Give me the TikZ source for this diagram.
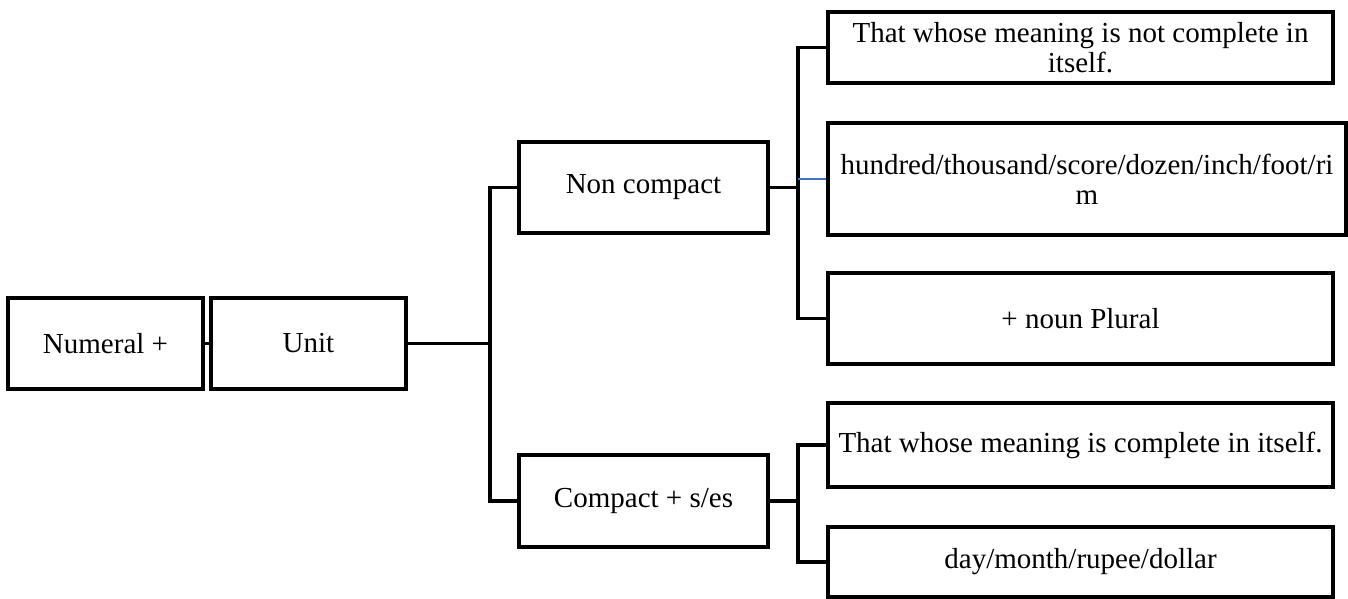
\documentclass[tikz,border=0pt]{standalone}
\usepackage{fontspec}
\setmainfont{Liberation Serif}
\definecolor{linkblue}{HTML}{4472C4}
\begin{document}
\begin{tikzpicture}[x=1pt,y=-1pt,
  box/.style={draw=black, line width=3.5pt, inner sep=0pt, align=center,
    font=\fontsize{29}{30}\selectfont},
  conn/.style={draw=black, line width=3.5pt},
  thinlink/.style={draw=linkblue, line width=1.5pt}]
\useasboundingbox (0,0) rectangle (1348,598);
\node[box, minimum width=195pt, minimum height=91pt] (num) at (105.5,343.5) {Numeral +};
\node[box, minimum width=195pt, minimum height=91pt] (unit) at (308.5,343.5) {Unit};
\node[box, minimum width=249pt, minimum height=91pt] (nc) at (643.5,187.5) {Non compact};
\node[box, minimum width=249pt, minimum height=92pt] (cp) at (643.5,501) {Compact + s/es};
\node[box, minimum width=505pt, minimum height=71pt] (b1) at (1080.5,47.5) {That whose meaning is not complete in\\itself.};
\node[box, minimum width=518pt, minimum height=112pt] (b2) at (1087,179) {hundred/thousand/score/dozen/inch/foot/ri\\m};
\node[box, minimum width=505pt, minimum height=91pt] (b3) at (1080.5,318.5) {+ noun Plural};
\node[box, minimum width=505pt, minimum height=84pt] (b4) at (1080.5,445) {That whose meaning is complete in itself.};
\node[box, minimum width=505pt, minimum height=70pt] (b5) at (1080.5,562) {day/month/rupee/dollar};
\coordinate (t1) at (490,343.5);
\coordinate (t2) at (798,187.5);
\coordinate (t3) at (798,501);
\draw[conn] (num.east) -- (unit.west);
\draw[conn] (unit.east) -- (t1);
\draw[conn] (nc.west) -| (t1) |- (cp.west);
\draw[conn] (nc.east) -- (t2);
\draw[conn] (b1.west) -| (t2) |- (b3.west);
\draw[thinlink] (t2 |- b2.west) -- (b2.west);
\draw[conn] (cp.east) -- (t3);
\draw[conn] (b4.west) -| (t3) |- (b5.west);
\end{tikzpicture}
\end{document}
